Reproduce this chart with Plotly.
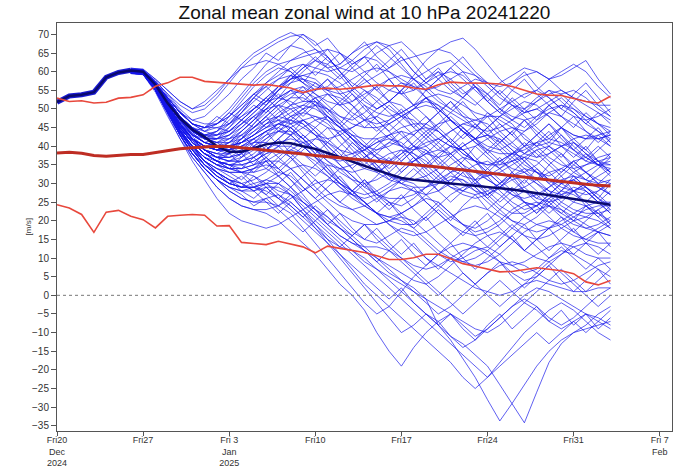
import plotly.graph_objects as go
import pandas as pd

# ---- data ----
start_date = "2024-12-20"
n_days = 46
member_start = 6  # index of first day stored in member lists

title_text = "Zonal mean zonal wind at 10 hPa 20241220"
tick_dates = ["2024-12-20", "2024-12-27", "2025-01-03", "2025-01-10",
              "2025-01-17", "2025-01-24", "2025-01-31", "2025-02-07"]
tick_labels = ["Fri20<br>Dec<br>2024", "Fri27", "Fri 3<br>Jan<br>2025", "Fri10",
               "Fri17", "Fri24", "Fri31", "Fri 7<br>Feb"]
y_ticks = list(range(-35, 71, 5))

# common analysis segment (days 0-6)
analysis = [51.8, 53.5, 53.8, 54.5, 58.5, 59.8, 60.4]

# ensemble mean (days 0-45)
ens_mean = [51.8, 53.5, 53.8, 54.5, 58.5, 59.8, 60.3, 60.0, 56.5, 51.5,
            47.5, 44.5, 42.5, 40.0, 38.5, 38.5, 39.5, 40.5, 41.0, 40.8,
            40.0, 39.3, 38.2, 37.0, 35.8, 34.7, 33.6, 32.5, 31.5, 31.0,
            30.6, 30.3, 30.0, 29.7, 29.4, 29.1, 28.8, 28.4, 27.9, 27.4,
            26.9, 26.4, 25.9, 25.3, 24.8, 24.3]

# climatology (days 0-45)
clim_max = [52.9, 52.0, 52.2, 51.6, 51.8, 52.9, 53.1, 53.8, 56.1, 57.0,
            58.5, 58.5, 57.4, 57.1, 56.9, 56.6, 56.4, 56.6, 56.2, 55.6,
            54.4, 55.3, 55.6, 55.3, 55.6, 56.0, 56.4, 56.2, 56.2, 55.6,
            55.3, 56.5, 57.2, 57.0, 57.0, 56.9, 56.7, 56.0, 55.0, 54.0,
            53.7, 53.6, 52.8, 52.0, 51.6, 53.4]
clim_mean = [38.2, 38.4, 38.1, 37.5, 37.3, 37.6, 37.8, 37.8, 38.3, 38.9,
             39.3, 39.6, 39.9, 40.0, 39.9, 39.6, 39.3, 39.0, 38.6, 38.2,
             37.9, 37.5, 37.2, 36.9, 36.6, 36.3, 36.0, 35.7, 35.4, 35.1,
             34.8, 34.4, 34.0, 33.6, 33.2, 32.8, 32.4, 32.0, 31.6, 31.2,
             30.8, 30.4, 30.1, 29.8, 29.5, 29.3]
clim_min = [24.3, 23.4, 21.7, 16.9, 22.3, 22.8, 21.2, 20.3, 18.1, 21.2,
            21.5, 21.7, 21.5, 18.6, 18.7, 14.2, 13.9, 13.6, 14.5, 13.8,
            13.0, 11.4, 13.2, 12.6, 12.0, 11.5, 10.6, 9.6, 9.6, 10.1,
            11.0, 11.0, 9.8, 8.5, 7.8, 7.0, 6.3, 6.4, 7.0, 7.4,
            7.0, 6.6, 5.8, 3.6, 2.8, 4.0]

# ensemble members (days 6-45)
m01 = [60.5,60.2,57.5,54,51, 49,50,53,57,61, 64,66,68,69.5,70, 68,64,60,57,55, 53,50,48,50,53, 51,47,44,42,45, 48,46,42,40,43, 45,41,38,36,37]
m02 = [60,59.8,57,53,49, 46,45,47,50,54, 58,62,65,67,66, 63,61,62,65,67, 68,66,62,58,55, 52,50,53,56,54, 50,47,45,48,51, 53,50,47,44,42]
m03 = [61,60.5,56,51,46, 42,40,39,41,44, 47,51,55,58,61, 63,62,59,55,52, 50,52,55,58,60, 62,63,60,56,52, 49,47,50,53,55, 54,51,48,46,44]
m04 = [59.5,59.5,56.5,52,47, 44,43,44,46,49, 53,57,60,63,65, 66,64,60,56,53, 50,52,55,59,63, 66,68,69,66,62, 58,55,53,55,58, 60,62,60,56,53]
m05 = [60.8,60.6,58,55,52, 50,51,54,58,62, 65,67,69,70.5,69, 66,63,61,60,62, 65,67,68,65,61, 58,55,53,51,54, 57,59,61,60,58, 59,61,63,58,54]
m06 = [60.2,59.9,56,51,46, 43,42,44,48,52, 56,59,61,60,57, 55,56,59,62,64, 63,60,57,55,58, 60,58,55,52,49, 47,45,44,46,49, 51,49,46,44,41]
m07 = [59.8,59.6,55.5,50,45, 41,38,37,39,42, 46,50,53,55,56, 54,51,48,47,49, 52,55,57,56,53, 50,47,44,42,40, 39,41,44,47,49, 48,46,44,42,43]
m08 = [60.4,60,56,50.5,45, 41,38,36,35,36, 38,41,44,46,47, 45,42,39,36,34, 33,35,38,40,39, 36,33,30,28,27, 29,32,34,33,30, 27,25,24,22,20]
m09 = [60,59.7,55,49,43, 38,34,31,29,28, 29,31,33,32,29, 26,23,20,17,15, 14,16,18,17,14, 11,9,10,12,13, 11,8,6,7,10, 12,11,9,7,5]
m10 = [59.7,59.5,55,48.5,42, 37,33,29,26,24, 23,22,20,17,14, 11,7,3,0,-4, -10,-15,-19,-14,-10, -7,-5,-8,-11,-9, -6,-3,0,2,1, -1,-3,-5,-7,-9]
m11 = [60.1,59.8,55.5,50,44, 40,37,35,34,33, 32,30,28,27,25, 23,21,18,15,12, 9,6,4,2,-1, -8,-12,-17,-22,-28, -33.7,-29,-24,-19,-15, -12,-10,-8,-5,-3]
m12 = [59.9,59.6,55,49.5,44, 39,35,32,30,29, 29,28,26,24,21, 18,15,13,12,10, 7,4,1,-2,-5, -8,-11,-13,-16,-19, -24,-29,-34.2,-26,-18, -13,-10,-9,-8,-7]
m13 = [60.3,60,56,50,44, 39,35,32,30,29, 30,31,30,27,23, 19,15,11,7,3, 0,-3,-6,-9,-12, -15,-18,-22,-25,-22, -18,-14,-10,-7,-4, -2,-4,-7,-10,-12]
m14 = [60,59.7,55,49,43, 38,34,31,28,26, 25,26,27,25,22, 18,14,10,6,2, -2,-6,-10,-8,-5, -7,-11,-14,-12,-9, -6,-3,-1,-3,-6, -8,-6,-3,0,2]
m15 = [60.6,60.3,56.5,51,45, 41,38,36,34,33, 33,34,32,29,26, 23,20,18,16,13, 10,8,6,4,3, 5,8,11,14,16, 17,15,12,10,9, 11,14,16,18,20]
m16 = [59.6,59.3,55,50,45, 41,38,36,35,35, 36,38,39,37,34, 31,28,25,23,21, 19,20,22,24,26, 25,22,19,17,18, 20,23,25,24,21, 18,16,15,17,19]
m17 = [60.2,59.9,56,51,46.5, 43,41,40,40,41, 42,44,45,43,40, 37,35,34,35,37, 39,41,40,37,34, 31,29,28,30,33, 36,38,37,34,31, 29,28,30,32,34]
m18 = [60,59.8,56.5,52,48, 45,43,42,42,43, 45,47,48,47,45, 43,42,43,45,47, 48,46,43,40,38, 37,38,40,42,43, 41,38,35,33,32, 34,36,37,35,33]
m19 = [59.8,59.6,56,51,46, 42,39,37,36,37, 39,42,45,48,50, 51,50,47,44,41, 38,36,35,36,38, 41,44,46,45,42, 39,36,33,30,28, 27,28,30,29,27]
m20 = [60.4,60.1,56.5,51.5,47, 43,41,40,41,43, 46,49,52,54,55, 53,50,46,42,39, 37,36,38,41,44, 46,47,45,42,39, 36,34,33,35,38, 40,41,39,36,33]
m21 = [60.1,59.9,55.5,50,44.5, 40,37,35,34,34, 35,37,40,43,45, 47,48,46,43,40, 37,33,30,28,27, 28,30,33,35,36, 34,31,28,26,25, 26,28,29,27,24]
m22 = [59.9,59.5,55,49.5,44, 40,36,33,31,30, 31,33,36,39,41, 42,41,38,34,30, 27,25,24,26,29, 32,35,37,36,33, 30,27,25,24,26, 28,27,25,22,19]
m23 = [60.5,60.2,57,52.5,48, 44,42,41,42,44, 47,50,53,55,54, 51,47,43,39,36, 33,31,30,32,35, 38,40,39,36,32, 28,25,23,24,27, 30,31,29,26,23]
m24 = [60.3,60,56,51,46, 42,40,39,39,40, 42,44,46,45,42, 39,36,33,31,30, 31,33,36,39,41, 42,40,37,34,31, 29,28,29,31,33, 34,32,29,26,24]
m25 = [59.7,59.4,55.5,50.5,45.5, 41.5,39,37,36,36, 37,39,41,42,41, 39,37,36,37,39, 41,42,41,38,35, 32,29,27,26,27, 29,31,32,30,27, 24,22,21,23,25]
m26 = [60,59.7,56,51.5,47, 44,42,41,41,42, 44,46,47,46,43, 40,38,37,38,40, 43,46,48,47,44, 41,38,35,33,32, 33,35,37,39,40, 38,35,33,31,30]
m27 = [60.6,60.4,57,53,49, 46,45,45,46,48, 50,52,53,52,50, 47,45,44,45,47, 50,52,51,48,45, 42,40,39,40,42, 44,45,43,40,37, 35,34,35,37,38]
m28 = [59.5,59.2,55,49,43.5, 39,35,32,30,29, 29,30,32,34,35, 34,32,29,27,26, 27,29,31,30,27, 24,21,19,18,20, 23,26,28,27,24, 21,19,18,19,21]
m29 = [60.2,60,56,51,46, 42,40,39,39,41, 43,46,48,50,51, 50,48,45,42,40, 39,40,42,44,45, 44,41,38,36,35, 36,38,40,41,39, 36,33,31,30,31]
m30 = [59.8,59.5,55.5,50.5,45, 41,38,36,35,35, 36,38,40,40,38, 35,32,29,26,24, 22,21,22,24,27, 30,32,31,28,25, 22,20,19,21,24, 27,29,28,25,22]
m31 = [60.7,60.5,57.5,54,50, 47,46,46,48,51, 54,57,59,61,62, 61,60,61,63,66, 68,67,64,60,57, 55,54,56,58,57, 54,51,49,50,52, 54,55,53,50,48]
m32 = [60.3,60.1,57,53,49, 46,45,46,48,51, 54,56,58,59,58, 56,55,56,58,60, 61,60,58,56,55, 56,58,60,59,56, 53,51,50,52,54, 55,53,51,49,47]
m33 = [60,59.8,56.5,52,47.5, 44,42,42,44,47, 50,53,56,58,59, 58,55,52,49,47, 46,47,49,51,52, 51,49,47,45,44, 45,47,49,50,48, 45,43,42,43,44]
m34 = [60.2,59.9,56,51,46, 42,39,38,38,39, 41,43,44,43,40, 37,34,31,28,25, 22,19,16,13,10, 8,6,4,2,1, 0,1,3,4,3, 2,1,1,2,2]
m35 = [59.9,59.6,55.5,50,44.5, 40,37,35,34,34, 35,36,36,34,31, 28,25,22,20,19, 19,20,21,20,17, 14,11,9,8,9, 11,14,17,19,20, 19,17,15,14,14]
m36 = [60.4,60.2,56.5,52,47, 43,41,40,40,41, 43,45,46,45,42, 38,34,30,27,24, 22,21,20,18,15, 12,10,9,10,12, 15,18,21,23,24, 23,21,19,17,16]
m37 = [60,59.7,56,51,46, 42,39,37,37,38, 40,43,46,48,49, 48,46,43,40,37, 34,32,31,31,32, 34,37,40,42,43, 42,39,36,33,31, 30,31,33,35,36]
m38 = [59.6,59.3,55,49.5,44, 39.5,36,34,33,33, 34,36,38,39,38, 36,33,30,28,27, 28,30,33,36,38, 39,38,35,31,27, 24,22,22,24,27, 30,33,35,36,35]
m39 = [60.5,60.3,57,52.5,48, 45,43,43,44,46, 48,50,51,50,47, 44,41,39,38,39, 41,43,44,43,40, 37,34,32,31,32, 34,36,37,36,33, 30,28,27,28,30]
m40 = [60.1,59.8,55.5,50,44, 39,35,32,30,29, 29,30,30,28,25, 22,19,16,14,12, 10,7,4,1,-2, -5,-3,0,3,6, 8,9,8,6,4, 3,4,6,8,9]
m41 = [59.8,59.5,55.5,50.5,45.5, 42,40,39,39,40, 41,41,40,37,33, 29,26,24,23,24, 26,28,29,28,25, 22,19,17,16,17, 19,22,24,25,24, 22,20,18,17,16]
m42 = [60.3,60,56.5,51.5,47, 43.5,41,40,40,41, 43,45,47,49,51, 53,54,53,51,48, 45,42,40,39,40, 42,44,46,47,46, 43,40,38,37,38, 40,42,43,42,40]
m43 = [60.8,60.7,58,55,52, 50,52,55,58,61, 62,63,62,60,57, 54,52,51,52,54, 56,58,59,58,56, 53,50,48,47,48, 50,52,54,55,53, 50,48,47,48,50]
m44 = [59.5,59.2,54.5,48,42, 36,31,26,22,20, 19,18,19,21,23, 25,27,28,27,25, 22,19,17,16,17, 19,21,23,24,23, 21,18,16,15,16, 18,20,21,20,18]
m45 = [59.6,59.3,55,49,43, 37,33,29,26,24, 23,23,24,26,28, 30,31,30,28,25, 22,20,19,19,21, 24,27,29,30,29, 27,24,21,19,18, 19,21,23,24,24]
m46 = [60.2,59.9,56,51,46, 42,39,37,36,36, 37,39,42,45,47, 48,47,45,42,38, 35,32,30,29,29, 30,31,31,29,26, 23,20,18,17,18, 20,22,24,25,25]
m47 = [60.6,60.4,57,53,49, 46,45,46,49,53, 57,60,62,63,64, 65,66,65,63,60, 57,55,54,55,57, 59,60,59,56,53, 50,48,47,48,50, 51,50,48,46,45]
m48 = [60,59.7,56,51,46, 42,40,39,40,42, 45,48,51,53,53, 51,48,45,43,42, 42,43,45,46,46, 44,41,38,36,35, 35,36,38,40,41, 40,38,36,35,35]
m49 = [60.1,59.8,55.5,50,44.5, 40,36,34,33,33, 34,35,34,31,27, 23,19,16,14,13, 13,12,10,8,7, 8,10,12,13,12, 9,6,4,5,8, 11,13,14,13,11]
m50 = [60,59.6,55,49,43, 38,34,31,29,28, 28,29,29,27,24, 21,18,15,12,9, 7,5,3,1,-1, -3,-5,-7,-9,-10, -8,-5,-2,-4,-7, -9,-7,-5,-6,-8]
m51 = [60.4,60.1,56.5,52,47.5, 44,42,42,43,46, 49,52,55,57,58, 57,55,54,55,57, 59,61,63,64,65, 66,65,62,59,57, 56,57,59,60,58, 55,53,52,51,51]
m52 = [59.9,59.6,55.5,50.5,45.5, 41.5,39,37,37,38, 40,42,44,44,42, 39,36,34,33,34, 36,38,39,38,36, 33,30,28,27,28, 30,32,33,31,28, 25,23,22,22,23]
m53 = [60.3,60,56,51,46, 42.5,40,39,39,40, 42,44,46,47,46, 43,39,35,32,29, 27,26,26,27,29, 31,33,34,33,31, 29,27,26,27,29, 31,32,31,29,27]
m54 = [59.7,59.4,55,49,43, 38,34,31,28,26, 25,25,24,22,18, 14,10,6,2,-2, -5,-3,1,5,8, 11,13,14,13,11, 9,8,9,11,13, 14,13,11,10,10]
m55 = [60.5,60.2,57,52.5,48, 45,43,43,44,47, 50,53,56,58,59, 60,59,57,54,51, 49,48,49,51,53, 54,53,51,49,48, 48,50,52,51,48, 45,43,42,42,43]
m56 = [60,59.8,56,51.5,47, 43,41,40,40,41, 43,46,49,51,52, 52,50,48,46,45, 45,46,48,50,51, 50,47,44,41,39, 38,38,39,41,42, 41,39,37,35,34]
m57 = [60.3,60,56,51,46, 43,41,42,45,49, 53,51,55,59,57, 61,64,60,56,59, 62,58,54,57,53, 49,52,48,45,49, 46,43,47,44,41, 45,42,39,43,40]
m58 = [59.9,59.7,55.5,50,45, 41,39,38,40,37, 41,44,40,43,47, 44,40,37,41,38, 34,37,33,36,39, 35,38,41,37,34, 37,33,30,34,31, 28,32,29,26,30]
m59 = [60.6,60.3,57,53,49, 47,48,51,54,58, 61,65,63,67,70, 67,69,65,62,64, 60,63,66,62,58, 61,57,54,56,52, 49,53,50,47,51, 48,45,49,46,43]
m60 = [60,59.6,55,49.5,44, 40,37,35,36,38, 35,39,42,38,35, 32,35,31,28,31, 27,24,27,23,20, 23,20,24,27,23, 26,29,25,22,26, 23,20,24,21,18]
m61 = [60.2,59.9,56.5,52,47.5, 44,45,48,46,50, 54,52,56,59,62, 59,62,65,61,58, 55,58,54,51,55, 58,61,64,60,57, 54,57,60,56,53, 50,54,57,53,49]
m62 = [59.7,59.4,55,49,43, 38,35,33,30,32, 29,27,30,33,29, 26,29,32,28,25, 22,25,21,18,21, 17,14,17,20,16, 13,16,19,15,12, 15,18,14,11,14]
m63 = [60.4,60.1,56.5,51.5,46.5, 42,40,41,39,42, 45,48,44,47,50, 53,49,46,50,53, 56,52,49,45,48, 44,41,45,42,38, 41,44,40,37,40, 43,39,36,39,42]
m64 = [60.1,59.8,56,50.5,45, 41,38,36,34,37, 40,36,33,36,39, 42,45,41,38,35, 38,41,44,40,37, 33,30,33,29,26, 29,32,28,25,22, 25,28,24,21,24]
m65 = [59.8,59.5,55,49,43.5, 39,36,33,31,29, 32,29,26,29,25, 22,19,22,18,15, 18,14,11,14,10, 7,10,6,3,6, 9,5,2,5,8, 4,1,4,7,3]
m66 = [60.5,60.2,57,52.5,48, 45,43,44,47,50, 53,56,53,57,60, 63,66,62,65,68, 64,61,64,60,57, 60,56,53,57,54, 51,55,58,54,51, 48,52,55,51,48]
m67 = [60,59.7,56,51,46, 42,39,37,38,35, 33,36,32,29,32, 35,38,35,32,29, 32,36,39,35,32, 28,31,34,30,27, 30,33,29,26,29, 32,28,25,28,31]
m68 = [60.3,60,56,51,45.5, 41,38,36,35,33, 30,27,24,27,23, 20,23,19,16,19, 15,12,15,11,8, 11,14,10,7,10, 13,16,12,15,18, 21,17,20,23,19]
m69 = [59.6,59.3,55,49.5,44, 40,37,36,38,41, 44,47,50,46,49, 52,48,45,48,51, 47,44,40,43,46, 49,45,42,45,48, 44,41,38,41,44, 40,37,40,36,33]
m70 = [60.7,60.4,57.5,53.5,49.5, 46,44,43,45,48, 51,49,52,55,52, 55,58,54,51,47, 44,47,50,46,43, 46,49,52,48,45, 41,44,47,43,40, 37,41,38,35,38]
m71 = [60.1,59.8,55.5,50,44.5, 40,36,33,31,28, 26,29,26,23,20, 17,14,11,8,5, 2,-1,2,-2,-5, -8,-5,-9,-12,-8, -5,-9,-6,-3,-7, -4,-8,-5,-9,-6]
m72 = [59.9,59.6,55.5,50.5,45.5, 42,40,39,41,44, 47,50,47,44,41, 38,41,44,41,38, 35,31,34,37,33, 30,33,36,40,37, 34,37,34,31,35, 38,34,31,34,37]
m73 = [60.2,59.9,56,51,46, 42,40,39,40,43, 40,37,34,37,40, 37,33,30,27,30, 26,23,26,29,25, 22,19,16,19,22, 18,15,12,15,18, 14,11,14,17,13]
m74 = [60.4,60.2,57,52.5,48, 45,44,46,49,47, 50,53,50,53,56, 52,49,52,55,58, 55,52,55,51,48, 45,48,45,42,45, 48,51,48,45,42, 45,48,44,41,44]
m75 = [59.8,59.5,55,49,43, 38,34,31,29,27, 24,26,23,20,17, 20,17,14,11,8, 5,2,-1,-4,-7, -10,-13,-16,-19,-22, -19,-16,-13,-10,-13, -10,-7,-10,-7,-4]
m76 = [60,59.8,56,51.5,47, 43.5,41,40,42,45, 48,51,54,51,54, 57,54,51,54,50, 47,44,47,50,53, 50,47,44,41,38, 35,38,41,38,35, 32,35,38,35,32]
m77 = [60.6,60.3,57,53,49, 46,44,45,44,47, 45,48,51,48,46, 43,40,37,34,37, 40,43,40,37,34, 37,40,43,46,43, 40,37,40,43,46, 42,39,42,45,41]
m78 = [59.7,59.4,55.5,50,44.5, 40,37,35,33,31, 34,37,34,31,28, 31,28,25,28,31, 28,25,22,19,22, 25,22,19,16,13, 16,19,16,13,10, 13,10,7,10,7]
m79 = [60.3,60.1,56.5,52,47, 44,42,43,46,49, 52,55,58,61,58, 55,58,55,52,55, 52,49,46,43,46, 49,52,49,46,43, 46,43,40,43,46, 43,40,37,40,37]
m80 = [60.1,59.8,56,50.5,45, 41,38,36,35,34, 37,40,37,40,43, 40,37,40,43,40, 37,34,37,40,43, 40,37,34,31,28, 25,28,31,28,25, 22,25,28,25,22]
m81 = [59.9,59.6,55,49.5,44, 39,35,33,31,30, 28,30,27,24,21, 24,21,18,15,12, 9,12,9,6,3, 0,3,6,3,0, -3,0,3,6,9, 6,3,0,-3,0]
m82 = [60.5,60.2,57,52.5,48, 44,42,41,43,46, 49,52,55,58,61, 64,61,58,61,64, 67,64,61,58,55, 58,61,58,55,52, 55,52,49,52,55, 52,49,46,49,46]
m83 = [60,59.7,55.5,50,45, 41,39,38,37,39, 42,39,42,45,42, 45,48,45,42,39, 42,39,36,39,42, 45,42,39,36,33, 30,33,36,33,30, 33,36,33,30,27]
m84 = [60.2,59.9,56,51,46, 42,40,39,38,40, 37,34,37,34,31, 28,31,34,31,28, 25,28,31,34,31, 28,25,28,31,34, 31,28,25,22,25, 28,31,28,25,28]
m85 = [59.6,59.3,55,49,43.5, 39,36,34,32,30, 28,25,22,25,22, 19,16,13,16,19, 16,13,10,7,4, 1,-2,-5,-2,1, 4,1,-2,1,4, 7,4,1,4,7]
m86 = [60.4,60.1,56.5,52,47.5, 44,42,42,43,45, 48,45,48,51,48, 51,54,51,48,45, 48,51,48,45,42, 39,42,39,36,39, 42,39,36,39,36, 33,36,33,30,33]

members = [m01, m02, m03, m04, m05, m06, m07, m08, m09, m10, m11, m12, m13, m14,
           m15, m16, m17, m18, m19, m20, m21, m22, m23, m24, m25, m26, m27, m28,
           m29, m30, m31, m32, m33, m34, m35, m36, m37, m38, m39, m40, m41, m42,
           m43, m44, m45, m46, m47, m48, m49, m50, m51, m52, m53, m54, m55, m56,
           m57, m58, m59, m60, m61, m62, m63, m64, m65, m66, m67, m68, m69, m70,
           m71, m72, m73, m74, m75, m76, m77, m78, m79, m80, m81, m82, m83, m84,
           m85, m86]

# ---- figure ----
days = pd.date_range(start_date, periods=n_days, freq="D")
mem_days = days[member_start:]

fig = go.Figure()

for m in members:
    fig.add_trace(go.Scatter(x=mem_days, y=m, mode="lines",
                             line=dict(color="rgba(20,20,235,0.68)", width=1),
                             hoverinfo="skip", showlegend=False))

fig.add_trace(go.Scatter(x=days[:len(analysis)], y=analysis, mode="lines",
                         line=dict(color="rgb(25,25,210)", width=5),
                         showlegend=False))

fig.add_trace(go.Scatter(x=days, y=ens_mean, mode="lines",
                         line=dict(color="rgb(10,10,110)", width=2.5),
                         showlegend=False))

fig.add_trace(go.Scatter(x=days, y=clim_max, mode="lines",
                         line=dict(color="rgb(232,72,60)", width=1.6),
                         showlegend=False))
fig.add_trace(go.Scatter(x=days, y=clim_min, mode="lines",
                         line=dict(color="rgb(232,72,60)", width=1.6),
                         showlegend=False))
fig.add_trace(go.Scatter(x=days, y=clim_mean, mode="lines",
                         line=dict(color="rgb(190,45,35)", width=3),
                         showlegend=False))

fig.add_hline(y=0, line=dict(color="rgb(120,120,120)", width=1, dash="dot"))

font_family = "Liberation Sans, Arial, sans-serif"

fig.update_layout(
    width=700, height=469,
    margin=dict(l=57, r=28, t=23, b=38, autoexpand=False),
    paper_bgcolor="white", plot_bgcolor="white",
    font=dict(family=font_family, size=10, color="#333333"),
    title=dict(text=title_text, x=0.5207, xanchor="center",
               y=0.974, yanchor="middle",
               font=dict(family=font_family, size=19, color="#111111")),
    showlegend=False,
)

fig.update_xaxes(
    automargin=False,
    range=["2024-12-20", "2025-02-08"],
    tickvals=tick_dates, ticktext=tick_labels,
    showgrid=False, zeroline=False,
    showline=True, linecolor="#555555", linewidth=1, mirror=True,
    ticks="outside", ticklen=4, tickcolor="#555555",
    tickfont=dict(size=9, color="#333333"),
    ticklabelstandoff=-4,
)
fig.update_yaxes(
    automargin=False,
    range=[-36.4, 73.06],
    tickvals=y_ticks,
    showgrid=False, zeroline=False,
    showline=True, linecolor="#555555", linewidth=1, mirror=True,
    ticks="outside", ticklen=5, tickcolor="#555555",
    tickfont=dict(size=10, color="#333333"),
)

fig.add_annotation(text="[m/s]", textangle=-90, xref="paper", yref="paper",
                   x=-0.057, y=0.50, showarrow=False,
                   font=dict(size=8, color="#333333"))

fig.write_html("out.html",
               config={"displayModeBar": False},
               post_script="document.body.style.margin='0';")
